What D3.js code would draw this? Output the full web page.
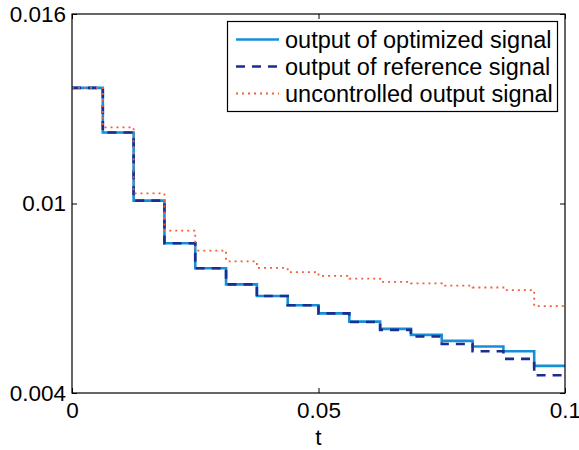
<!DOCTYPE html>
<html>
<head>
<meta charset="utf-8">
<script src="https://cdn.jsdelivr.net/npm/d3@7"></script>
<style>
  html, body { margin: 0; padding: 0; background: #fff; }
  svg { display: block; font-family: "Liberation Sans", Arial, Helvetica, sans-serif; }
</style>
</head>
<body>
<svg id="chart" width="579" height="450"></svg>
<script>
// ---- data ----
const stepTimes = [0, 0.00625, 0.0125, 0.01875, 0.025, 0.03125, 0.0375, 0.04375,
                   0.05, 0.05625, 0.0625, 0.06875, 0.075, 0.08125, 0.0875, 0.09375];
const tEnd = 0.1;
const optimizedOutput = [0.01366, 0.01225, 0.01009, 0.00874, 0.00795, 0.00744, 0.00707, 0.00678,
                         0.00652, 0.00626, 0.00603, 0.00584, 0.00565, 0.00547, 0.00532, 0.00486];
const referenceOutput = [0.01366, 0.01225, 0.01009, 0.00874, 0.00795, 0.00744, 0.00707, 0.00678,
                         0.00652, 0.00625, 0.00600, 0.00579, 0.00555, 0.00532, 0.00508, 0.00456];
const uncontrolledOutput = [0.01366, 0.01241, 0.01032, 0.00914, 0.00851, 0.00817, 0.00796, 0.00783,
                            0.00771, 0.00762, 0.00752, 0.00747, 0.00740, 0.00734, 0.00726, 0.00675];
const xTicks = [0, 0.05, 0.1];
const xTickLabels = ["0", "0.05", "0.1"];
const yTicks = [0.004, 0.01, 0.016];
const yTickLabels = ["0.004", "0.01", "0.016"];
const legendLabels = ["output of optimized signal", "output of reference signal", "uncontrolled output signal"];
const xLabel = "t";

// ---- layout ----
const L = 72, R = 565, T = 14, B = 393;
const svg = d3.select("#chart");
const x = d3.scaleLinear().domain([0, 0.1]).range([L, R]);
const y = d3.scaleLinear().domain([0.004, 0.016]).range([B, T]);

const series = [
  { values: optimizedOutput, color: "#1590d8", width: 2.6, dash: null },
  { values: referenceOutput, color: "#1c2d8f", width: 2.6, dash: "9,7" },
  { values: uncontrolledOutput, color: "#f0603c", width: 1.8, dash: "2,4" }
];

const line = d3.line()
  .x(d => x(d[0]))
  .y(d => y(d[1]))
  .curve(d3.curveStepAfter);

svg.append("defs").append("clipPath").attr("id", "clip")
  .append("rect").attr("x", L).attr("y", T).attr("width", R - L).attr("height", B - T);

const plot = svg.append("g").attr("clip-path", "url(#clip)");
series.forEach(s => {
  const pts = stepTimes.map((t, i) => [t, s.values[i]]);
  pts.push([tEnd, s.values[s.values.length - 1]]);
  plot.append("path")
    .datum(pts)
    .attr("d", line)
    .attr("fill", "none")
    .attr("stroke", s.color)
    .attr("stroke-width", s.width)
    .attr("stroke-dasharray", s.dash)
    .attr("stroke-linejoin", "miter");
});

// ---- axes ----
const fontSize = 22.5;
function styleAxis(g) {
  g.select(".domain").remove();
  g.selectAll(".tick line").attr("stroke", "#000").attr("stroke-width", 1);
  g.selectAll("text").attr("fill", "#000").attr("font-size", fontSize)
    .attr("font-family", '"Liberation Sans", Arial, sans-serif');
}

const xAxis = svg.append("g").attr("transform", `translate(0,${B})`)
  .call(d3.axisBottom(x).tickValues(xTicks).tickFormat((d, i) => xTickLabels[i]).tickSizeInner(-5).tickSizeOuter(0).tickPadding(9));
styleAxis(xAxis);
xAxis.selectAll("text").attr("dy", "0.71em");

const xAxisTop = svg.append("g").attr("transform", `translate(0,${T})`)
  .call(d3.axisTop(x).tickValues(xTicks).tickFormat("").tickSizeInner(-5).tickSizeOuter(0));
styleAxis(xAxisTop);

const yAxis = svg.append("g").attr("transform", `translate(${L},0)`)
  .call(d3.axisLeft(y).tickValues(yTicks).tickFormat((d, i) => yTickLabels[i]).tickSizeInner(-5).tickSizeOuter(0).tickPadding(6));
styleAxis(yAxis);

const yAxisRight = svg.append("g").attr("transform", `translate(${R},0)`)
  .call(d3.axisRight(y).tickValues(yTicks).tickFormat("").tickSizeInner(-5).tickSizeOuter(0));
styleAxis(yAxisRight);

// box
svg.append("rect").attr("x", L).attr("y", T).attr("width", R - L).attr("height", B - T)
  .attr("fill", "none").attr("stroke", "#000").attr("stroke-width", 1.2);

// x label
svg.append("text").attr("x", (L + R) / 2).attr("y", 445)
  .attr("text-anchor", "middle").attr("font-size", fontSize).attr("fill", "#000").text(xLabel);

// ---- legend ----
const lg = svg.append("g");
lg.append("rect").attr("x", 227.5).attr("y", 21.5).attr("width", 330).attr("height", 90)
  .attr("fill", "#fff").attr("stroke", "#000").attr("stroke-width", 1.2);
const rowY = [39.5, 66.5, 93.5];
series.forEach((s, i) => {
  lg.append("line").attr("x1", 236).attr("x2", 279).attr("y1", rowY[i]).attr("y2", rowY[i])
    .attr("stroke", s.color).attr("stroke-width", s.width).attr("stroke-dasharray", s.dash);
  lg.append("text").attr("x", 285).attr("y", rowY[i]).attr("dy", "0.36em")
    .attr("font-size", 23.5).attr("fill", "#000").text(legendLabels[i]);
});
</script>
</body>
</html>
